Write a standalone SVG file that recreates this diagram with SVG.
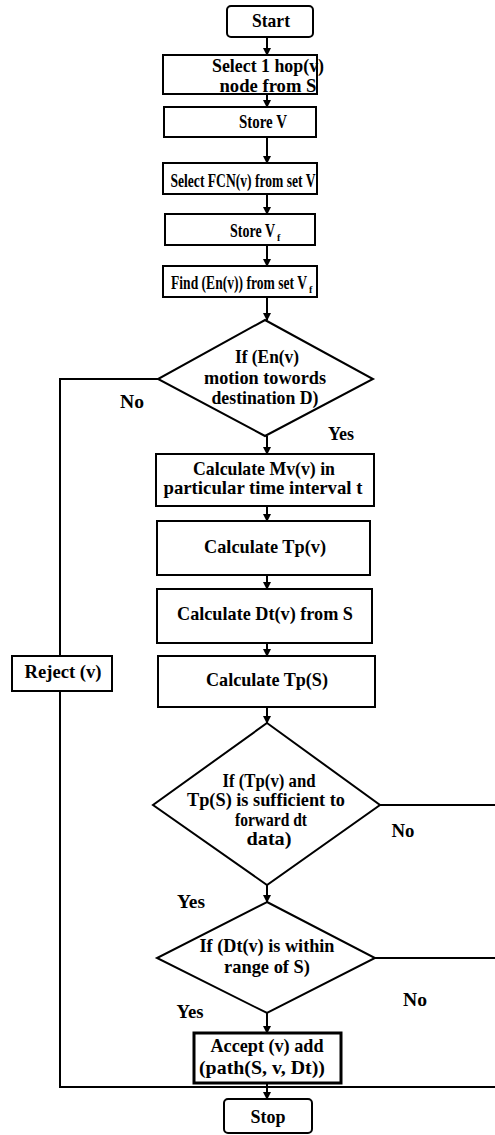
<svg xmlns="http://www.w3.org/2000/svg" width="495" height="1135" viewBox="0 0 495 1135">
<style>
.b{fill:#fff;stroke:#000;stroke-width:2}
.bt{fill:#fff;stroke:#000;stroke-width:3}
.c{fill:none;stroke:#000;stroke-width:2}
text{font-family:"Liberation Serif","Times New Roman",serif;font-size:19px;font-weight:bold;text-anchor:middle;fill:#000}
text.s{font-size:14px;text-anchor:end}
text.sub{font-size:10px;text-anchor:start}
</style>
<defs>
<marker id="ah" markerWidth="8" markerHeight="8" refX="7" refY="4" orient="auto" markerUnits="userSpaceOnUse">
<path d="M0,0 L8,4 L0,8 z" fill="#000"/>
</marker>
</defs>
<rect width="495" height="1135" fill="#fff"/>
<g id="connectors">
<line class="c" x1="267" y1="37" x2="267" y2="55" marker-end="url(#ah)"/>
<line class="c" x1="267" y1="94" x2="267" y2="107" marker-end="url(#ah)"/>
<line class="c" x1="267" y1="137" x2="267" y2="163" marker-end="url(#ah)"/>
<line class="c" x1="267" y1="194" x2="267" y2="214" marker-end="url(#ah)"/>
<line class="c" x1="267" y1="245" x2="267" y2="266" marker-end="url(#ah)"/>
<line class="c" x1="267" y1="297" x2="267" y2="320" marker-end="url(#ah)"/>
<line class="c" x1="267" y1="436" x2="267" y2="454" marker-end="url(#ah)"/>
<line class="c" x1="267" y1="506" x2="267" y2="521" marker-end="url(#ah)"/>
<line class="c" x1="267" y1="575" x2="267" y2="589" marker-end="url(#ah)"/>
<line class="c" x1="267" y1="643" x2="267" y2="656" marker-end="url(#ah)"/>
<line class="c" x1="267" y1="707" x2="267" y2="723" marker-end="url(#ah)"/>
<line class="c" x1="267" y1="885" x2="267" y2="902" marker-end="url(#ah)"/>
<line class="c" x1="267" y1="1013" x2="267" y2="1033" marker-end="url(#ah)"/>
<line class="c" x1="267" y1="1083" x2="267" y2="1099" marker-end="url(#ah)"/>
<polyline class="c" points="158,379 60,379 60,656"/>
<polyline class="c" points="60,691 60,1087 495,1087"/>
<line class="c" x1="380" y1="805" x2="495" y2="805"/>
<line class="c" x1="375" y1="958" x2="495" y2="958"/>
<text x="132" y="408" textLength="24" lengthAdjust="spacingAndGlyphs">No</text>
<text x="341" y="440" textLength="26" lengthAdjust="spacingAndGlyphs">Yes</text>
<text x="403" y="837" textLength="23" lengthAdjust="spacingAndGlyphs">No</text>
<text x="191" y="908" textLength="28" lengthAdjust="spacingAndGlyphs">Yes</text>
<text x="415" y="1006" textLength="24" lengthAdjust="spacingAndGlyphs">No</text>
<text x="190" y="1018" textLength="27" lengthAdjust="spacingAndGlyphs">Yes</text>
</g>
<g id="start">
<rect class="b" x="227" y="6" width="86" height="31" rx="4"/>
<text x="271" y="27" textLength="38" lengthAdjust="spacingAndGlyphs">Start</text>
</g>
<g id="select-hop">
<rect class="b" x="163" y="55" width="154" height="39"/>
<text x="268" y="72" textLength="112" lengthAdjust="spacingAndGlyphs">Select 1 hop(v)</text>
<text x="268" y="92" textLength="97" lengthAdjust="spacingAndGlyphs">node from S</text>
</g>
<g id="store-v">
<rect class="b" x="164" y="107" width="152" height="30"/>
<text x="263" y="128" textLength="48" lengthAdjust="spacingAndGlyphs">Store V</text>
</g>
<g id="select-fcn">
<rect class="b" x="163" y="163" width="154" height="31"/>
<text x="243" y="187" textLength="145" lengthAdjust="spacingAndGlyphs">Select FCN(v) from set V</text>
</g>
<g id="store-vf">
<rect class="b" x="165" y="214" width="150" height="31"/>
<text class="s" transform="translate(275,237) scale(1,1.3)">Store V</text>
<text class="sub" x="277" y="241">f</text>
</g>
<g id="find-en">
<rect class="b" x="163" y="266" width="154" height="31"/>
<text class="s" transform="translate(307,289) scale(0.97,1.3)">Find (En(v)) from set V</text>
<text class="sub" x="309" y="293">f</text>
</g>
<g id="decision-motion">
<polygon class="b" points="265,320 373,379 265,436 158,379"/>
<text x="267" y="363" textLength="64" lengthAdjust="spacingAndGlyphs">If (En(v)</text>
<text x="265" y="384" textLength="122" lengthAdjust="spacingAndGlyphs">motion towords</text>
<text x="265" y="404" textLength="107" lengthAdjust="spacingAndGlyphs">destination D)</text>
</g>
<g id="calc-mv">
<rect class="b" x="156" y="454" width="218" height="52"/>
<text x="264" y="475" textLength="142" lengthAdjust="spacingAndGlyphs">Calculate Mv(v) in</text>
<text x="263" y="494" textLength="199" lengthAdjust="spacingAndGlyphs">particular time interval t</text>
</g>
<g id="calc-tpv">
<rect class="b" x="157" y="521" width="213" height="54"/>
<text x="265" y="553" textLength="122" lengthAdjust="spacingAndGlyphs">Calculate Tp(v)</text>
</g>
<g id="calc-dtv">
<rect class="b" x="157" y="589" width="215" height="54"/>
<text x="265" y="620" textLength="176" lengthAdjust="spacingAndGlyphs">Calculate Dt(v) from S</text>
</g>
<g id="calc-tps">
<rect class="b" x="158" y="656" width="217" height="51"/>
<text x="267" y="686" textLength="122" lengthAdjust="spacingAndGlyphs">Calculate Tp(S)</text>
</g>
<g id="reject">
<rect class="b" x="12" y="656" width="100" height="35"/>
<text x="63" y="678" textLength="77" lengthAdjust="spacingAndGlyphs">Reject (v)</text>
</g>
<g id="decision-tp">
<polygon class="b" points="267,723 380,805 267,885 153,805"/>
<text x="269" y="787" textLength="93" lengthAdjust="spacingAndGlyphs">If (Tp(v) and</text>
<text x="266" y="806" textLength="158" lengthAdjust="spacingAndGlyphs">Tp(S) is sufficient to</text>
<text x="271" y="826" textLength="72" lengthAdjust="spacingAndGlyphs">forward dt</text>
<text x="269" y="845" textLength="45" lengthAdjust="spacingAndGlyphs">data)</text>
</g>
<g id="decision-dt">
<polygon class="b" points="267,902 375,958 267,1013 157,958"/>
<text x="267" y="952" textLength="135" lengthAdjust="spacingAndGlyphs">If (Dt(v) is within</text>
<text x="267" y="973" textLength="86" lengthAdjust="spacingAndGlyphs">range of S)</text>
</g>
<g id="accept">
<rect class="bt" x="194" y="1033" width="147" height="50"/>
<text x="267" y="1052" textLength="113" lengthAdjust="spacingAndGlyphs">Accept (v) add</text>
<text x="262" y="1074" textLength="126" lengthAdjust="spacingAndGlyphs">(path(S, v, Dt))</text>
</g>
<g id="stop">
<rect class="b" x="224" y="1099" width="88" height="34" rx="4"/>
<text x="268" y="1123" textLength="35" lengthAdjust="spacingAndGlyphs">Stop</text>
</g>
</svg>
